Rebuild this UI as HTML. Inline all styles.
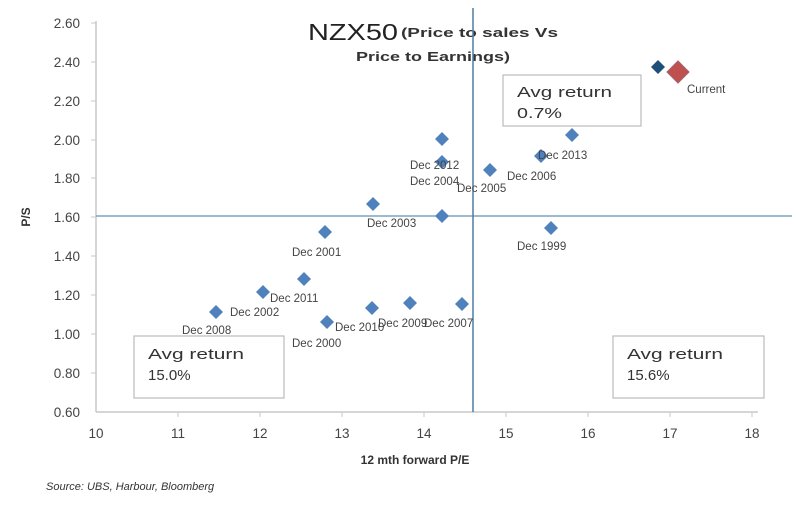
<!DOCTYPE html>
<html><head><meta charset="utf-8"><style>body{margin:0;background:#fff}</style></head><body>
<svg width="800" height="509" xmlns="http://www.w3.org/2000/svg" font-family="Liberation Sans, sans-serif">
<g stroke="#c8c8c8" stroke-width="1.5">
<line x1="96" y1="21" x2="96" y2="412"/><line x1="96" y1="412" x2="758" y2="412"/>
<g stroke-width="1">
<line x1="91" y1="23" x2="96" y2="23"/><line x1="91" y1="62" x2="96" y2="62"/><line x1="91" y1="101" x2="96" y2="101"/><line x1="91" y1="140" x2="96" y2="140"/><line x1="91" y1="178" x2="96" y2="178"/><line x1="91" y1="217" x2="96" y2="217"/><line x1="91" y1="256" x2="96" y2="256"/><line x1="91" y1="295" x2="96" y2="295"/><line x1="91" y1="334" x2="96" y2="334"/><line x1="91" y1="373" x2="96" y2="373"/>
<line x1="178" y1="412" x2="178" y2="417"/><line x1="260" y1="412" x2="260" y2="417"/><line x1="342" y1="412" x2="342" y2="417"/><line x1="424" y1="412" x2="424" y2="417"/><line x1="506" y1="412" x2="506" y2="417"/><line x1="588" y1="412" x2="588" y2="417"/><line x1="670" y1="412" x2="670" y2="417"/><line x1="752" y1="412" x2="752" y2="417"/>
</g></g>
<g font-size="13.5" fill="#444" text-anchor="end">
<text x="80" y="28">2.60</text><text x="80" y="67">2.40</text><text x="80" y="106">2.20</text><text x="80" y="145">2.00</text><text x="80" y="183">1.80</text><text x="80" y="222">1.60</text><text x="80" y="261">1.40</text><text x="80" y="300">1.20</text><text x="80" y="339">1.00</text><text x="80" y="378">0.80</text><text x="80" y="417">0.60</text>
</g>
<g font-size="13.5" fill="#444" text-anchor="middle">
<text x="96" y="438">10</text><text x="178" y="438">11</text><text x="260" y="438">12</text><text x="342" y="438">13</text><text x="424" y="438">14</text><text x="506" y="438">15</text><text x="588" y="438">16</text><text x="670" y="438">17</text><text x="752" y="438">18</text>
</g>
<text x="415" y="464" font-size="12" font-weight="bold" fill="#333" text-anchor="middle">12 mth forward P/E</text>
<text x="30" y="217" font-size="12" font-weight="bold" fill="#333" text-anchor="middle" transform="rotate(-90 30 217)">P/S</text>
<text x="46" y="490" font-size="11" font-style="italic" fill="#333">Source: UBS, Harbour, Bloomberg</text>
<text x="308" y="40" font-size="23" fill="#222" textLength="90" lengthAdjust="spacingAndGlyphs">NZX50</text>
<text x="401" y="37" font-size="13" font-weight="bold" fill="#333" textLength="157" lengthAdjust="spacingAndGlyphs">(Price to sales Vs</text>
<text x="356" y="61" font-size="13" font-weight="bold" fill="#333" textLength="154" lengthAdjust="spacingAndGlyphs">Price to Earnings)</text>
<line x1="96" y1="216" x2="792" y2="216" stroke="#7fa3bd" stroke-width="1.5"/>
<line x1="473" y1="8" x2="473" y2="412" stroke="#4f7ea3" stroke-width="1.5"/>
<g fill="#fff" stroke="#bbb" stroke-width="1.2">
<rect x="503" y="75" width="138" height="51"/><rect x="134" y="336" width="150" height="62"/><rect x="613" y="336" width="151" height="62"/>
</g>
<g font-size="15" fill="#333">
<text x="517" y="97" textLength="95" lengthAdjust="spacingAndGlyphs">Avg return</text><text x="517" y="118" textLength="45" lengthAdjust="spacingAndGlyphs">0.7%</text>
<text x="148" y="359" textLength="96" lengthAdjust="spacingAndGlyphs">Avg return</text><text x="148" y="380">15.0%</text>
<text x="627" y="359" textLength="96" lengthAdjust="spacingAndGlyphs">Avg return</text><text x="627" y="380">15.6%</text>
</g>
<g fill="#4f81bd">
<path d="M325 225l7 7-7 7-7-7z"/><path d="M373 197l7 7-7 7-7-7z"/><path d="M442 132l7 7-7 7-7-7z"/><path d="M442 155l7 7-7 7-7-7z"/><path d="M442 209l7 7-7 7-7-7z"/><path d="M490 163l7 7-7 7-7-7z"/><path d="M572 128l7 7-7 7-7-7z"/><path d="M541 149l7 7-7 7-7-7z"/><path d="M551 221l7 7-7 7-7-7z"/>
<path d="M216 305l7 7-7 7-7-7z"/><path d="M263 285l7 7-7 7-7-7z"/><path d="M304 272l7 7-7 7-7-7z"/><path d="M327 315l7 7-7 7-7-7z"/><path d="M372 301l7 7-7 7-7-7z"/><path d="M410 296l7 7-7 7-7-7z"/><path d="M462 297l7 7-7 7-7-7z"/>
<path d="M658 60l7 7-7 7-7-7z" fill="#1f4e79"/>
<path d="M678 61l11 11-11 11-11-11z" fill="#c0504d" stroke="#a06070"/>
</g>
<g font-size="11.5" fill="#444">
<text x="292" y="256">Dec 2001</text><text x="367" y="227">Dec 2003</text><text x="410" y="169">Dec 2012</text><text x="410" y="185">Dec 2004</text><text x="457" y="192">Dec 2005</text><text x="507" y="180">Dec 2006</text><text x="538" y="159">Dec 2013</text><text x="517" y="250">Dec 1999</text><text x="687" y="93">Current</text>
<text x="230" y="316">Dec 2002</text><text x="270" y="302">Dec 2011</text><text x="182" y="334">Dec 2008</text><text x="335" y="331">Dec 2010</text><text x="292" y="347">Dec 2000</text><text x="378" y="327">Dec 2009</text><text x="424" y="327">Dec 2007</text>
</g>
</svg>
</body></html>
